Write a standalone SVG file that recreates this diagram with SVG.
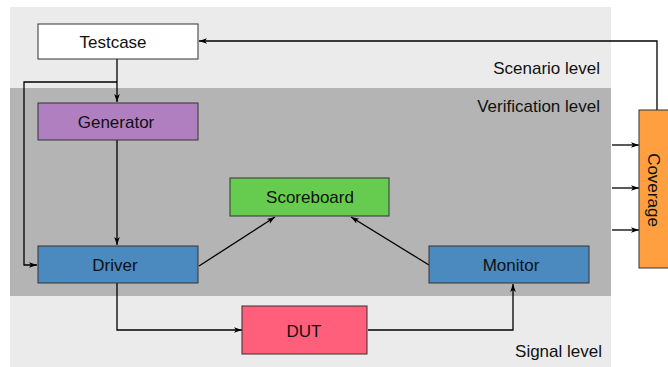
<svg xmlns="http://www.w3.org/2000/svg" width="668" height="367" viewBox="0 0 668 367">
<defs>
<marker id="ah" viewBox="0 0 10 10" refX="10" refY="5" markerWidth="9" markerHeight="8" markerUnits="userSpaceOnUse" orient="auto">
<path d="M0,1.5 L10,5 L0,8.5 L2.5,5 Z" fill="#000"/>
</marker>
</defs>
<style>
text{font-family:"Liberation Sans",Arial,sans-serif;font-size:17px;fill:#111}
.lbl{text-anchor:middle}
.lvl{text-anchor:end}
.box{stroke:#333;stroke-width:1}
.c{fill:none;stroke:#000;stroke-width:1.3}
.a{marker-end:url(#ah)}
</style>
<g id="levels">
<rect x="10" y="7" width="601" height="360" fill="#ebebeb"/>
<rect x="10" y="88" width="601" height="208" fill="#b4b4b4"/>
<text class="lvl" x="600" y="74">Scenario level</text>
<text class="lvl" x="600" y="112">Verification level</text>
<text class="lvl" x="602" y="357">Signal level</text>
</g>
<g id="connectors">
<polyline class="c a" points="657,110 657,41 199,41"/>
<polyline class="c a" points="117,59 117,102"/>
<polyline class="c a" points="117,82 24,82 24,265 37,265"/>
<polyline class="c a" points="117,140 117,245"/>
<polyline class="c a" points="199,266 275,217"/>
<polyline class="c a" points="429,265 351,217"/>
<polyline class="c a" points="117,283 117,330 242,330"/>
<polyline class="c a" points="368,330 513,330 513,284"/>
<polyline class="c a" points="612,145 639,145"/>
<polyline class="c a" points="612,188 639,188"/>
<polyline class="c a" points="612,230 639,230"/>
</g>
<g id="testcase">
<rect class="box" x="38" y="24" width="160" height="35" fill="#ffffff"/>
<text class="lbl" x="113" y="48">Testcase</text>
</g>
<g id="generator">
<rect class="box" x="38" y="103" width="160" height="37" fill="#b07fc0"/>
<text class="lbl" x="116" y="128">Generator</text>
</g>
<g id="scoreboard">
<rect class="box" x="230" y="178" width="159" height="38" fill="#66cc4f"/>
<text class="lbl" x="310" y="203">Scoreboard</text>
</g>
<g id="driver">
<rect class="box" x="38" y="246" width="160" height="37" fill="#4a8abf"/>
<text class="lbl" x="115" y="271">Driver</text>
</g>
<g id="monitor">
<rect class="box" x="429" y="246" width="160" height="37" fill="#4a8abf"/>
<text class="lbl" x="511" y="271">Monitor</text>
</g>
<g id="dut">
<rect class="box" x="242" y="306" width="125" height="48" fill="#ff5f7a"/>
<text class="lbl" x="304" y="337">DUT</text>
</g>
<g id="coverage">
<rect class="box" x="639" y="110" width="30" height="158" fill="#ff9f40"/>
<text class="lbl" transform="translate(648,190) rotate(90)" x="0" y="0">Coverage</text>
</g>
</svg>
